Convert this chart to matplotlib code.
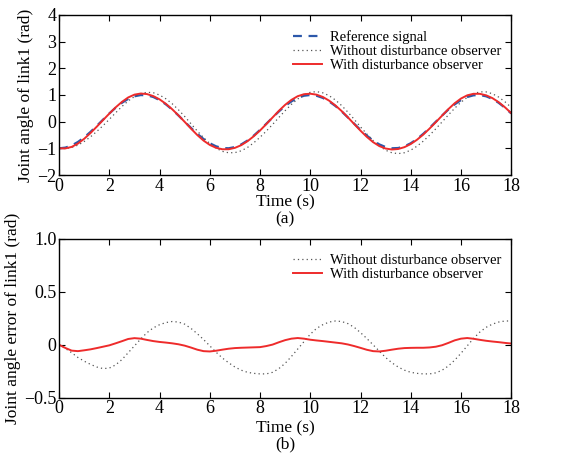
import matplotlib
matplotlib.use("Agg")
import matplotlib.pyplot as plt
import numpy as np

plt.rcParams['font.family'] = ['Liberation Serif', 'DejaVu Serif']
plt.rcParams['mathtext.fontset'] = 'stix'

time_s = [0, 0.25, 0.5, 0.75, 1, 1.25, 1.5, 1.75, 2, 2.25, 2.5, 2.75, 3, 3.25, 3.5,
          3.75, 4, 4.25, 4.5, 4.75, 5, 5.25, 5.5, 5.75, 6, 6.25, 6.5, 6.75, 7, 7.25,
          7.5, 7.75, 8, 8.25, 8.5, 8.75, 9, 9.25, 9.5, 9.75, 10, 10.25, 10.5, 10.75,
          11, 11.25, 11.5, 11.75, 12, 12.25, 12.5, 12.75, 13, 13.25, 13.5, 13.75, 14,
          14.25, 14.5, 14.75, 15, 15.25, 15.5, 15.75, 16, 16.25, 16.5, 16.75, 17,
          17.25, 17.5, 17.75, 18]
reference = [-1.000, -0.972, -0.891, -0.760, -0.588, -0.383, -0.156, 0.078, 0.309,
             0.522, 0.707, 0.853, 0.951, 0.997, 0.988, 0.924, 0.809, 0.649, 0.454,
             0.233, 0.000, -0.233, -0.454, -0.649, -0.809, -0.924, -0.988, -0.997,
             -0.951, -0.853, -0.707, -0.522, -0.309, -0.078, 0.156, 0.383, 0.588,
             0.760, 0.891, 0.972, 1.000, 0.972, 0.891, 0.760, 0.588, 0.383, 0.156,
             -0.078, -0.309, -0.522, -0.707, -0.853, -0.951, -0.997, -0.988, -0.924,
             -0.809, -0.649, -0.454, -0.233, 0.000, 0.233, 0.454, 0.649, 0.809, 0.924,
             0.988, 0.997, 0.951, 0.853, 0.707, 0.522, 0.309]
err_without = [0.0, -0.035, -0.075, -0.12, -0.155, -0.185, -0.21, -0.225, -0.22, -0.19,
               -0.14, -0.075, -0.01, 0.055, 0.115, 0.16, 0.19, 0.21, 0.22, 0.215, 0.195,
               0.155, 0.105, 0.05, -0.01, -0.07, -0.125, -0.17, -0.21, -0.24, -0.26,
               -0.27, -0.275, -0.275, -0.26, -0.225, -0.175, -0.11, -0.04, 0.03, 0.1,
               0.155, 0.19, 0.215, 0.225, 0.22, 0.2, 0.165, 0.115, 0.06, 0.0, -0.06,
               -0.12, -0.17, -0.21, -0.24, -0.26, -0.27, -0.275, -0.275, -0.265, -0.24,
               -0.2, -0.145, -0.08, -0.01, 0.06, 0.12, 0.165, 0.195, 0.215, 0.225, 0.225]
err_with = [0.0, -0.03, -0.055, -0.06, -0.052, -0.043, -0.031, -0.018, -0.005, 0.014,
            0.034, 0.055, 0.063, 0.058, 0.046, 0.035, 0.027, 0.021, 0.014, 0.005, -0.008,
            -0.026, -0.046, -0.06, -0.063, -0.056, -0.046, -0.037, -0.031, -0.028,
            -0.026, -0.024, -0.022, -0.012, 0.002, 0.024, 0.044, 0.058, 0.064, 0.058,
            0.048, 0.041, 0.035, 0.028, 0.021, 0.014, 0.003, -0.012, -0.029, -0.047,
            -0.06, -0.063, -0.056, -0.046, -0.037, -0.031, -0.029, -0.028, -0.028,
            -0.025, -0.018, -0.004, 0.018, 0.042, 0.058, 0.064, 0.057, 0.047, 0.038,
            0.031, 0.025, 0.018, 0.012]

xticks = [0, 2, 4, 6, 8, 10, 12, 14, 16, 18]
yticks_a = [-2, -1, 0, 1, 2, 3, 4]
yticklabels_a = ['\u22122', '\u22121', '0', '1', '2', '3', '4']
yticks_b = [-0.5, 0, 0.5, 1.0]
yticklabels_b = ['\u22120.5', '0', '0.5', '1.0']

t = np.array(time_s)
ref = np.array(reference)
y_without = ref + np.array(err_without)
y_with = ref + np.array(err_with)

BLUE = '#2c58aa'
RED = '#ee2b2b'
DOT = '#555555'

fig = plt.figure(figsize=(5.63, 4.54), dpi=100)
ax1 = fig.add_axes([0.105, 0.6145, 0.803, 0.3525])
ax2 = fig.add_axes([0.105, 0.124, 0.803, 0.3496])

FS_TICK = 13
FS_LAB = 12.5
FS_LEG = 10.5

ax1.plot(t, ref, linestyle=(0, (4, 3)), color=BLUE, lw=1.6, label='Reference signal')
ax1.plot(t, y_without, linestyle=(0, (1, 2.5)), color=DOT, lw=0.9,
         label='Without disturbance observer')
ax1.plot(t, y_with, color=RED, lw=1.4, label='With disturbance observer')
ax1.set_ylim(-2, 4)
ax1.set_yticks(yticks_a)
ax1.set_yticklabels(yticklabels_a)
ax1.set_ylabel('Joint angle of link1 (rad)', fontsize=FS_LAB, labelpad=2)
ax1.set_xlabel('Time (s)\n(a)', fontsize=FS_LAB, labelpad=0, linespacing=1.08)

ax2.plot(t, err_without, linestyle=(0, (1, 2.5)), color=DOT, lw=0.9,
         label='Without disturbance observer')
ax2.plot(t, err_with, color=RED, lw=1.4, label='With disturbance observer')
ax2.set_ylim(-0.5, 1.0)
ax2.set_yticks(yticks_b)
ax2.set_yticklabels(yticklabels_b)
ax2.set_ylabel('Joint angle error of link1 (rad)', fontsize=FS_LAB, labelpad=2)
ax2.set_xlabel('Time (s)\n(b)', fontsize=FS_LAB, labelpad=2, linespacing=1.0)

for ax in (ax1, ax2):
    ax.set_xlim(0, 18)
    ax.set_xticks(xticks)
    ax.tick_params(direction='in', top=True, right=True, length=4, width=0.8,
                   labelsize=FS_TICK, pad=2)
    for sp in ax.spines.values():
        sp.set_linewidth(1.0)
    ax.legend(loc='upper right', frameon=False, fontsize=FS_LEG,
              handlelength=2.0, handletextpad=0.5, labelspacing=0.05,
              borderaxespad=0.3, bbox_to_anchor=(1.0, 0.97))

fig.savefig('out.png', dpi=100)
